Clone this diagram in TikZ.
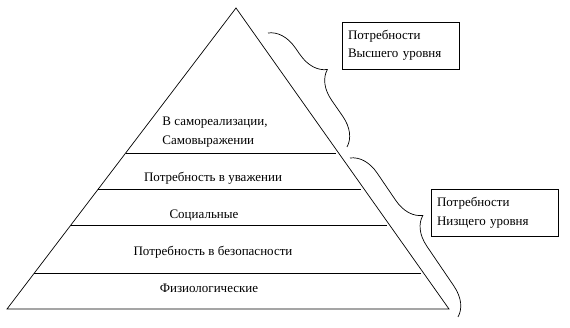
\documentclass[tikz,border=0pt]{standalone}
\usepackage{fontspec}
\setmainfont{Liberation Serif}
\usetikzlibrary{calc,decorations.pathreplacing}

\begin{document}
\begin{tikzpicture}[
x=1pt,y=-1pt,
line width=0.7pt,
every node/.style={font=\fontsize{13}{18.5}\selectfont},
level/.style={inner sep=0pt},
note/.style={draw,align=left,inner xsep=6pt,inner ysep=0pt,minimum height=47pt},
brace/.style={decorate,decoration={brace,amplitude=28pt,aspect=0.46}}
]
\useasboundingbox (0,0) rectangle (570,328);

% Pyramid
\coordinate (apex) at (236,8);
\coordinate (left) at (7,309);
\coordinate (right) at (449,309);
\draw (apex) -- (left) -- (right) -- cycle;

% Level lines
\foreach \y in {153,189,225,273}
  \draw[shorten >=3pt] ($(apex)!{(\y-8)/301}!(left)$) -- ($(apex)!{(\y-8)/301}!(right)$);

% Levels
\node[level,align=left] (self) at (215,132) {В самореализации,\\Самовыражении};
\node[level] (esteem) at (213,178) {Потребность в уважении};
\node[level] (social) at (204,215) {Социальные};
\node[level] (safety) at (213,252) {Потребность в безопасности};
\node[level] (physio) at (209,288) {Физиологические};

% Groups
\node[note,text width=105pt] (high) at (400.5,45.5) {Потребности\\Высшего уровня};
\node[note,text width=115pt] (low) at (494.5,213) {Потребности\\Низщего уровня};

% Braces
\coordinate (high top) at (268,33);
\coordinate (high bot) at (347,147);
\draw[brace] (high top) -- (high bot);

\coordinate (low top) at (350,158);
\coordinate (low bot) at (458,317);
\draw[brace] (low top) -- (low bot);

\end{tikzpicture}
\end{document}
